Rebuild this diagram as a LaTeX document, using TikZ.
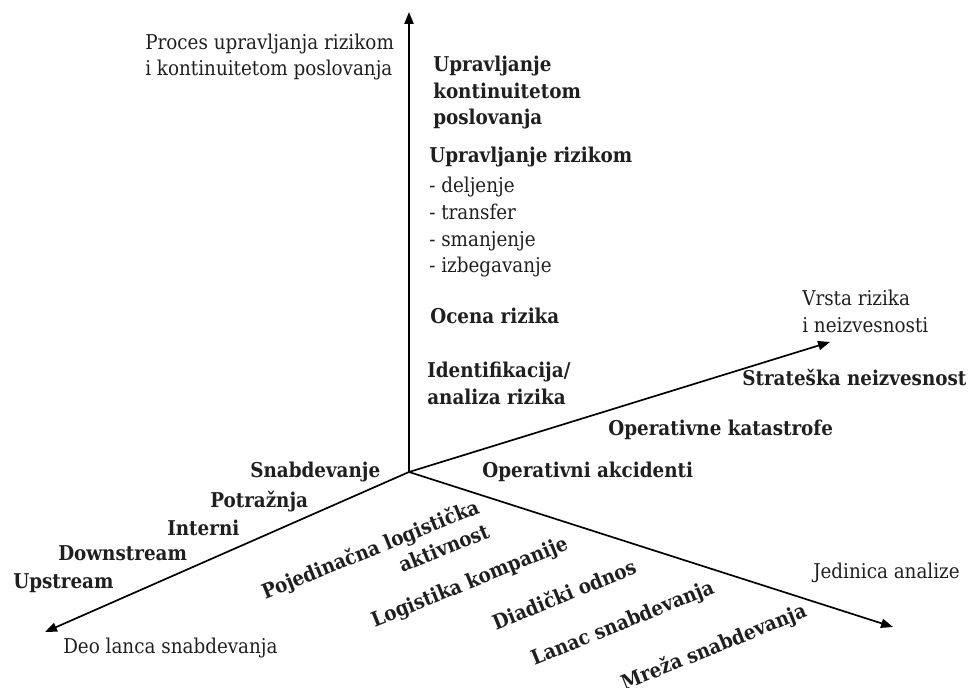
\documentclass[tikz,border=0pt]{standalone}
\usepackage{fontspec}
\setmainfont{DejaVu Serif Condensed}
\usetikzlibrary{arrows.meta}

\begin{document}
\begin{tikzpicture}[x=0.025cm,y=-0.025cm,
  every node/.style={font=\fontsize{14.5}{19}\selectfont,text=black!88,inner sep=0pt},
  axis/.style={line width=1.2pt,-{Triangle[length=8.5pt,width=6.5pt]}},
  ttl/.style={anchor=base west,align=left},
  lbl/.style={anchor=base west,align=left,font=\fontsize{14.5}{19}\selectfont\bfseries},
  rlbl/.style={rotate=22,align=right,font=\fontsize{14.5}{19}\selectfont\bfseries}]
  \useasboundingbox (0,0) rectangle (971,688);

  % axes
  \coordinate (o) at (409,472);
  \coordinate (proc) at (409,12);
  \coordinate (vrsta) at (830,342);
  \coordinate (deo) at (45,632);
  \coordinate (jed) at (893,627);
  \draw[axis] (o) -- (proc);
  \draw[axis] (o) -- (vrsta);
  \draw[axis] (o) -- (deo);
  \draw[axis] (o) -- (jed);

  % axis titles (base = last line)
  \node[ttl] (procT) at (145,76) {Proces upravljanja rizikom\\i kontinuitetom poslovanja};
  \node[ttl] (vrstaT) at (802,332) {Vrsta rizika\\i neizvesnosti};
  \node[ttl] (jedT) at (813,578) {Jedinica analize};
  \node[ttl] (deoT) at (63,653) {Deo lanca snabdevanja};

  % process steps
  \node[lbl] (ukp) at (433,125) {Upravljanje\\kontinuitetom\\poslovanja};
  \node[lbl] (ur) at (429,163) {Upravljanje rizikom};
  \node[ttl] (mere) at (429,273) {- deljenje\\- transfer\\- smanjenje\\- izbegavanje};
  \node[lbl] (ocena) at (430,323) {Ocena rizika};
  \node[lbl] (ident) at (427,404) {Identifikacija/\\analiza rizika};

  % risk types
  \node[lbl] (strat) at (742,385) {Strateška neizvesnost};
  \node[lbl] (katas) at (608,435) {Operativne katastrofe};
  \node[lbl] (akcid) at (482,477) {Operativni akcidenti};

  % parts of the chain
  \node[lbl] (snab) at (250,477) {Snabdevanje};
  \node[lbl] (potr) at (210,507) {Potražnja};
  \node[lbl] (inter) at (167,535) {Interni};
  \node[lbl] (down) at (58,560) {Downstream};
  \node[lbl] (up) at (13,588) {Upstream};

  % units of analysis
  \node[rlbl] (aktiv) at (375,561) {Pojedinačna logistička\\aktivnost};
  \node[rlbl] (komp) at (470,583) {Logistika kompanije};
  \node[rlbl] (diad) at (564,594) {Diadički odnos};
  \node[rlbl] (lanac) at (623,624) {Lanac snabdevanja};
  \node[rlbl] (mreza) at (714,648) {Mreža snabdevanja};
\end{tikzpicture}
\end{document}
